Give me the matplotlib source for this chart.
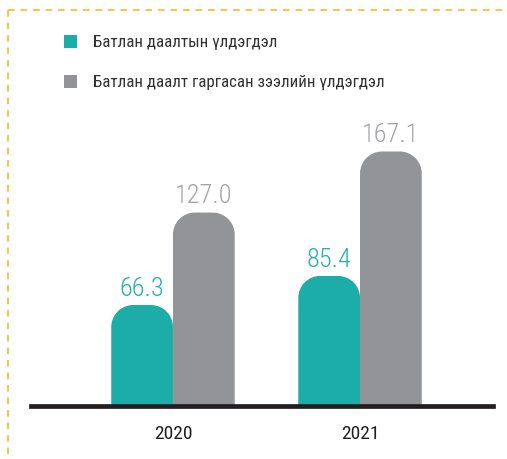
import matplotlib
matplotlib.use("Agg")
import matplotlib.pyplot as plt
from matplotlib.path import Path
from matplotlib.patches import PathPatch, Patch
from matplotlib.lines import Line2D

years = ["2020", "2021"]
guarantee = [66.3, 85.4]
guaranteed_loans = [127.0, 167.1]
series_names = ["Батлан даалтын үлдэгдэл", "Батлан даалт гаргасан зээлийн үлдэгдэл"]

TEAL = "#1cada9"
GREY = "#939498"
TEAL_TXT = "#22b2ad"
GREY_TXT = "#a2a3a7"
ORANGE = "#fbb72c"

plt.rcParams["font.family"] = ["Roboto Condensed", "DejaVu Sans"]

W, H, DPI = 507, 459, 100
fig = plt.figure(figsize=(W / DPI, H / DPI), dpi=DPI)

# axes: baseline at y=406px, spanning x 31..493px
ax = fig.add_axes([31 / W, (H - 406) / H, 462 / W, 396 / H])
ax.set_xlim(-0.759, 1.711)
ax.set_ylim(0, 260)

bar_w = 0.33
radius_px = 22


def rounded_bar(x0, width, height, color):
    # rounded top corners, radius given in pixels
    fig.canvas.draw()
    p0 = ax.transData.transform((0, 0))
    p1 = ax.transData.transform((1, 1))
    rx = radius_px / (p1[0] - p0[0])
    ry = radius_px / (p1[1] - p0[1])
    rx = min(rx, width / 2)
    ry = min(ry, height)
    k = 0.5523
    x1 = x0 + width
    verts = [
        (x0, 0), (x0, height - ry),
        (x0, height - ry + k * ry), (x0 + rx - k * rx, height), (x0 + rx, height),
        (x1 - rx, height),
        (x1 - rx + k * rx, height), (x1, height - ry + k * ry), (x1, height - ry),
        (x1, 0), (x0, 0),
    ]
    codes = [Path.MOVETO, Path.LINETO,
             Path.CURVE4, Path.CURVE4, Path.CURVE4,
             Path.LINETO,
             Path.CURVE4, Path.CURVE4, Path.CURVE4,
             Path.LINETO, Path.CLOSEPOLY]
    ax.add_patch(PathPatch(Path(verts, codes), facecolor=color, edgecolor="none", zorder=2))


for i in range(len(years)):
    rounded_bar(i - bar_w, bar_w, guarantee[i], TEAL)
    rounded_bar(i, bar_w, guaranteed_loans[i], GREY)
    ax.annotate(f"{guarantee[i]:.1f}", (i - bar_w / 2, guarantee[i]), xytext=(0, 3),
                textcoords="offset points", ha="center", va="bottom",
                fontsize=19, fontweight="light", color=TEAL_TXT)
    ax.annotate(f"{guaranteed_loans[i]:.1f}", (i + bar_w / 2, guaranteed_loans[i]), xytext=(0, 3),
                textcoords="offset points", ha="center", va="bottom",
                fontsize=19, fontweight="light", color=GREY_TXT)

for s in ["top", "right", "left"]:
    ax.spines[s].set_visible(False)
ax.spines["bottom"].set_linewidth(3.4)
ax.spines["bottom"].set_color("#231f20")
ax.spines["bottom"].set_zorder(3)
ax.set_yticks([])
ax.set_xticks([0, 1], years, fontsize=14, color="#231f20")
ax.tick_params(axis="x", length=0, pad=14)

# dashed frame along top and left edges
fig.add_artist(Line2D([8 / W, 1], [1 - 10 / H, 1 - 10 / H], transform=fig.transFigure,
                      color=ORANGE, lw=1.2, dashes=(4, 3.5)))
fig.add_artist(Line2D([8 / W, 8 / W], [1 - 10 / H, 0], transform=fig.transFigure,
                      color=ORANGE, lw=1.2, dashes=(4, 3.5)))

handles = [Patch(facecolor=TEAL), Patch(facecolor=GREY)]
fig.legend(handles, series_names, loc="upper left", bbox_to_anchor=(64 / W, 1 - 35 / H),
           frameon=False, fontsize=12.2, handlelength=0.78, handleheight=0.78,
           handletextpad=0.95, labelspacing=1.45, borderpad=0, borderaxespad=0,
           labelcolor="#333333")

fig.savefig("out.png", dpi=DPI)
